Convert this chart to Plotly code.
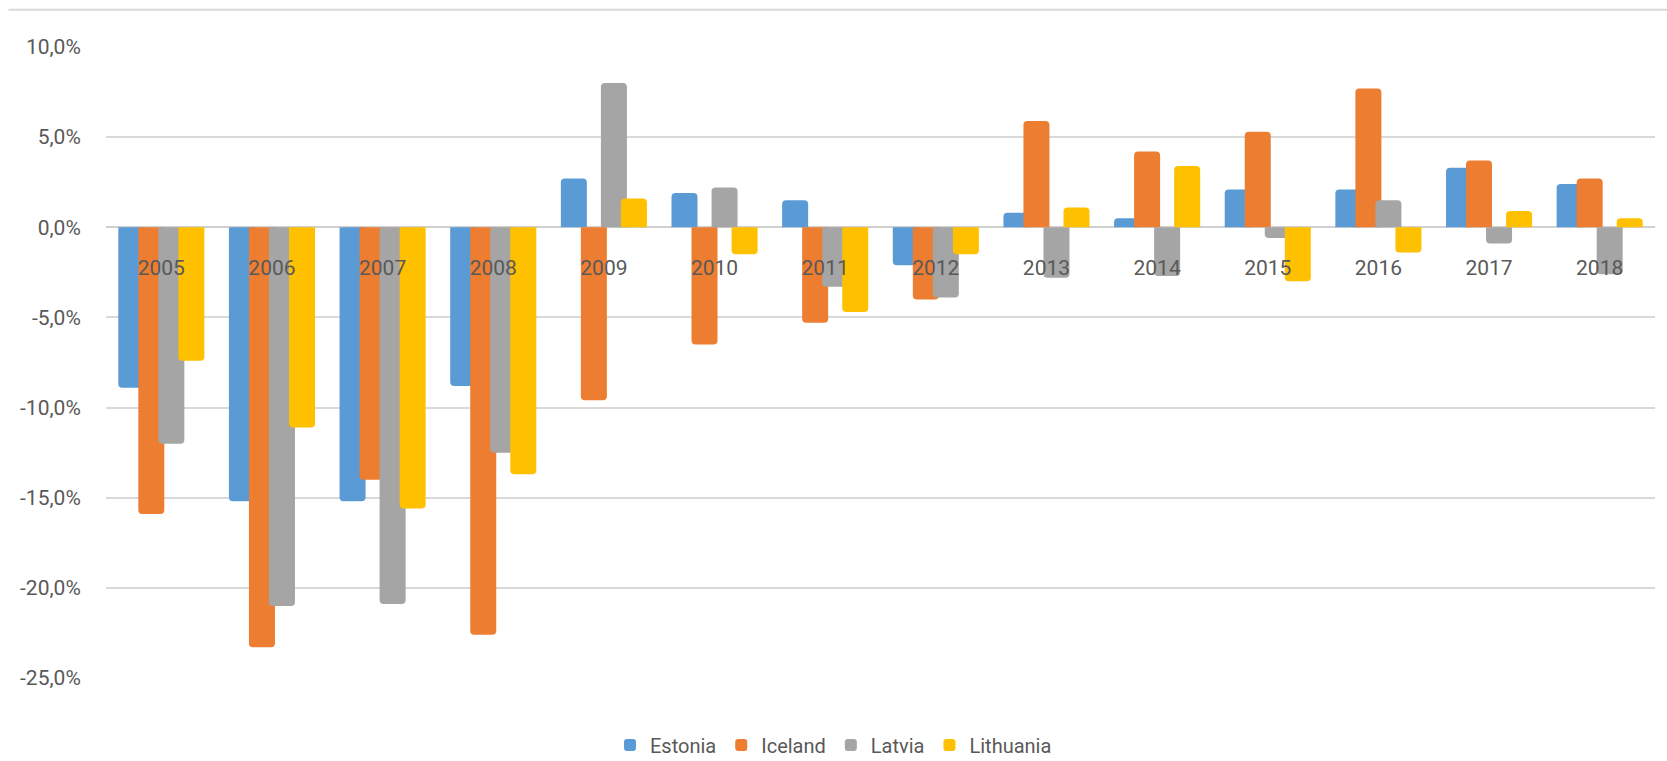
import plotly.graph_objects as go

# Annual change by country, in percent
years = ["2005", "2006", "2007", "2008", "2009", "2010", "2011",
         "2012", "2013", "2014", "2015", "2016", "2017", "2018"]

estonia = [-8.9, -15.2, -15.2, -8.8, 2.7, 1.9, 1.5, -2.1, 0.8, 0.5, 2.1, 2.1, 3.3, 2.4]
iceland = [-15.9, -23.3, -14.0, -22.6, -9.6, -6.5, -5.3, -4.0, 5.9, 4.2, 5.3, 7.7, 3.7, 2.7]
latvia = [-12.0, -21.0, -20.9, -12.5, 8.0, 2.2, -3.3, -3.9, -2.8, -2.7, -0.6, 1.5, -0.9, -2.6]
lithuania = [-7.4, -11.1, -15.6, -13.7, 1.6, -1.5, -4.7, -1.5, 1.1, 3.4, -3.0, -1.4, 0.9, 0.5]

tick_values = [-25, -20, -15, -10, -5, 0, 5, 10]
tick_labels = ["-25,0%", "-20,0%", "-15,0%", "-10,0%", "-5,0%", "0,0%", "5,0%", "10,0%"]

series = [
    ("Estonia", estonia, "#5B9BD5"),
    ("Iceland", iceland, "#ED7D31"),
    ("Latvia", latvia, "#A5A5A5"),
    ("Lithuania", lithuania, "#FFC000"),
]

# overlapping clustered bars: each bar 0.235 of a category wide, stepped by 0.181
bar_w = 0.235
step = 0.181
centers = [-1.5 * step, -0.5 * step, 0.5 * step, 1.5 * step]

TEXT = "#595959"
FONT = "Roboto, Open Sans, sans-serif"

fig = go.Figure()
for (name, vals, color), c in zip(series, centers):
    fig.add_trace(go.Bar(
        name=name, x=years, y=vals,
        width=bar_w, offset=c - bar_w / 2,
        marker=dict(color=color, line=dict(width=0)),
    ))

y_min, y_max = -25, 10

fig.update_layout(
    width=1667, height=761,
    margin=dict(l=106, r=12, t=47, b=83, autoexpand=False),
    paper_bgcolor="white", plot_bgcolor="white",
    barmode="overlay", barcornerradius=4,
    font=dict(family=FONT, color=TEXT, size=20),
    showlegend=True,
    legend=dict(
        orientation="h", xref="container", yref="container",
        x=0.5, xanchor="center", y=0.021, yanchor="middle",
        font=dict(family=FONT, size=20, color=TEXT),
        itemwidth=30, tracegroupgap=0,
    ),
    xaxis=dict(
        type="category", anchor="free", position=(0 - y_min) / (y_max - y_min),
        automargin=False,
        showgrid=False, showline=False, zeroline=False,
        ticks="outside", ticklen=22, tickcolor="rgba(0,0,0,0)",
        tickfont=dict(family=FONT, size=21, color=TEXT),
        range=[-0.5, len(years) - 0.5],
    ),
    yaxis=dict(
        range=[y_min, y_max], tickvals=tick_values, ticktext=tick_labels,
        automargin=False,
        showgrid=True, gridcolor="#D9D9D9", gridwidth=1.5,
        zeroline=True, zerolinecolor="#D0D0D0", zerolinewidth=2,
        showline=False, ticks="outside", ticklen=20, tickcolor="rgba(0,0,0,0)",
        tickfont=dict(family=FONT, size=21, color=TEXT),
    ),
    shapes=[dict(
        type="line", xref="paper", yref="paper",
        x0=-0.063, x1=1.01, y0=1.059, y1=1.059,
        line=dict(color="#D9D9D9", width=2),
    )],
)

fig.write_html("out.html")
